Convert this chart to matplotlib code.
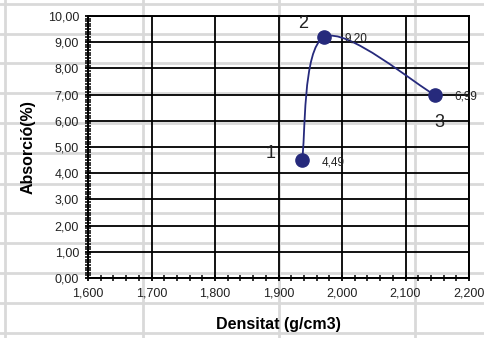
import matplotlib
matplotlib.use('Agg')
import matplotlib.pyplot as plt
from matplotlib.path import Path
from matplotlib.patches import PathPatch
from matplotlib.lines import Line2D
from matplotlib.ticker import MultipleLocator, FuncFormatter

plt.rcParams['font.family'] = ['Liberation Sans', 'DejaVu Sans']

densitat = [1.937, 1.972, 2.146]
absorcio = [4.49, 9.20, 6.99]
etiquetes = ['1', '2', '3']
valors = ['4,49', '9,20', '6,99']

navy = '#262a7c'

fig = plt.figure(figsize=(4.84, 3.38), dpi=100)

# spreadsheet cell grid behind the chart
W, H = 484, 338
for x in [5, 143, 279, 415]:
    fig.add_artist(Line2D([x / W, x / W], [0, 1], color='#d9d9d9', lw=2, zorder=0))
for y in [4, 34, 63, 93, 123, 153, 184, 213, 243, 273, 303, 333]:
    fig.add_artist(Line2D([0, 1], [1 - y / H, 1 - y / H], color='#d9d9d9', lw=2, zorder=0))

ax = fig.add_axes([88 / W, 1 - 278 / H, 381 / W, 262 / H])
ax.set_facecolor('none')
ax.set_xlim(1.6, 2.2)
ax.set_ylim(0, 10)

ax.xaxis.set_major_locator(MultipleLocator(0.1))
ax.xaxis.set_minor_locator(MultipleLocator(0.02))
ax.yaxis.set_major_locator(MultipleLocator(1))
ax.yaxis.set_minor_locator(MultipleLocator(0.1))
ax.xaxis.set_major_formatter(FuncFormatter(lambda v, p: f'{v:.3f}'.replace('.', ',')))
ax.yaxis.set_major_formatter(FuncFormatter(lambda v, p: f'{v:.2f}'.replace('.', ',')))
ax.grid(True, which='major', color='black', lw=1.3)
ax.set_axisbelow(True)
for s in ax.spines.values():
    s.set_color('black')
    s.set_linewidth(1.4)
ax.tick_params(which='both', direction='inout', color='black', labelsize=9, labelcolor='#222222')
ax.tick_params(which='major', length=5, width=1.3, pad=4)
ax.tick_params(which='minor', length=4, width=1.1)

ax.set_xlabel('Densitat (g/cm3)', fontsize=11.5, fontweight='bold', labelpad=13)
ax.set_ylabel('Absorció(%)', fontsize=11.5, fontweight='bold', labelpad=9)

# Excel style smoothed line (Catmull-Rom as Bezier)
pts = list(zip(densitat, absorcio))
verts = [pts[0]]
codes = [Path.MOVETO]
for i in range(len(pts) - 1):
    p0 = pts[i - 1] if i > 0 else pts[i]
    p1 = pts[i]
    p2 = pts[i + 1]
    p3 = pts[i + 2] if i + 2 < len(pts) else pts[i + 1]
    c1 = (p1[0] + (p2[0] - p0[0]) / 6, p1[1] + (p2[1] - p0[1]) / 6)
    c2 = (p2[0] - (p3[0] - p1[0]) / 6, p2[1] - (p3[1] - p1[1]) / 6)
    verts += [c1, c2, p2]
    codes += [Path.CURVE4] * 3
ax.add_patch(PathPatch(Path(verts, codes), fc='none', ec=navy, lw=1.3, zorder=3))
ax.plot(densitat, absorcio, 'o', color=navy, ms=9.5, zorder=4)

num_off = [(-31, 7), (-21, 13), (5, -28)]
for x, y, t, o in zip(densitat, absorcio, etiquetes, num_off):
    ax.annotate(t, (x, y), xytext=o, textcoords='offset pixels', ha='center', va='center',
                fontsize=13, color='#222222')
for x, y, v in zip(densitat, absorcio, valors):
    ax.annotate(v, (x, y), xytext=(20, -2), textcoords='offset pixels', ha='left', va='center',
                fontsize=8.5, color='#222222')

fig.savefig('out.png', dpi=100)
